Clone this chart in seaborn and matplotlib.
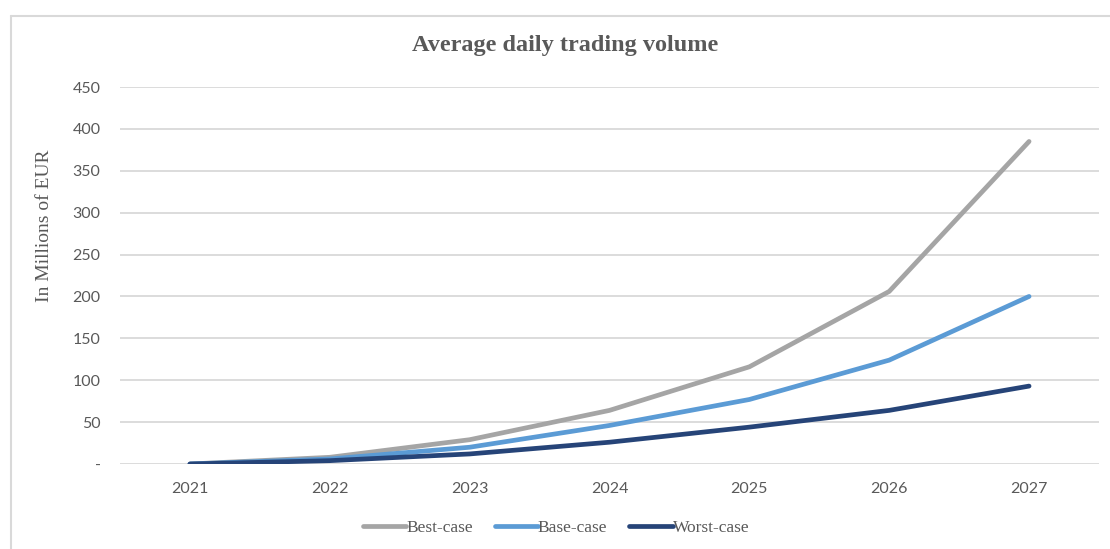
import numpy as np
import pandas as pd
import matplotlib.pyplot as plt
import matplotlib.lines as mlines
import seaborn as sns

# Chart data
years = [2021, 2022, 2023, 2024, 2025, 2026, 2027]
best_case = [0, 8, 29, 64, 116, 206, 385]
base_case = [0, 6, 20, 46, 77, 124, 200]
worst_case = [0, 4, 12, 26, 44, 64, 93]
series_names = ["Best-case", "Base-case", "Worst-case"]
y_ticks = [0, 50, 100, 150, 200, 250, 300, 350, 400, 450]
y_tick_labels = ["-", "50", "100", "150", "200", "250", "300", "350", "400", "450"]

colors = ["#a5a5a5", "#5b9bd5", "#264478"]
text_color = "#595959"
grid_color = "#d9d9d9"
serif = ["Liberation Serif", "DejaVu Serif"]

# Long form table for seaborn
df = pd.DataFrame({
    "Year": years * 3,
    "Value": best_case + base_case + worst_case,
    "Scenario": np.repeat(series_names, len(years)),
})

sns.set_theme(style="white")
plt.rcParams["font.family"] = ["Lato", "DejaVu Sans"]

fig = plt.figure(figsize=(11.10, 5.49), dpi=100)
ax = fig.add_axes([120 / 1110, 1 - 464 / 549, (1099 - 120) / 1110, (464 - 87) / 549])

sns.lineplot(data=df, x="Year", y="Value", hue="Scenario", hue_order=series_names,
             palette=colors, linewidth=3.4, ax=ax, legend=False, zorder=3)

ax.set_xlim(2020.5, 2027.5)
ax.set_ylim(0, 450)
ax.set_xticks(years)
ax.set_xticklabels([str(y) for y in years])
ax.set_yticks(y_ticks)
ax.set_yticklabels(y_tick_labels)
ax.tick_params(axis="both", length=0, labelsize=11.5, labelcolor=text_color)
ax.tick_params(axis="y", pad=14)
ax.tick_params(axis="x", pad=13)
ax.set_xlabel("")
ax.set_ylabel("")
ax.grid(axis="y", color=grid_color, linewidth=1.3)
ax.set_axisbelow(True)
for s in ax.spines.values():
    s.set_visible(False)

# Title and y label in a serif face
fig.text(565 / 1110, 1 - 46 / 549, "Average daily trading volume", ha="center", va="center",
         fontsize=17.5, fontweight="bold", color=text_color, family=serif)
fig.text(45 / 1110, 1 - 226 / 549, "In Millions of EUR", ha="center", va="center",
         rotation=90, fontsize=14, color=text_color, family=serif)

# Legend below the plot
handles = [mlines.Line2D([], [], color=c, linewidth=3.4) for c in colors]
fig.legend(handles, series_names, loc="center", bbox_to_anchor=(556 / 1110, 1 - 528 / 549),
           ncol=3, frameon=False, handlelength=2.5, handletextpad=0.0, columnspacing=1.25,
           prop={"family": serif, "size": 12.5}, labelcolor=text_color)

# Light frame on top and left like the cropped screenshot
fig.add_artist(mlines.Line2D([11 / 1110, 1], [1 - 16 / 549, 1 - 16 / 549],
                             color=grid_color, linewidth=1.5, transform=fig.transFigure))
fig.add_artist(mlines.Line2D([11 / 1110, 11 / 1110], [0, 1 - 16 / 549],
                             color=grid_color, linewidth=1.5, transform=fig.transFigure))

fig.savefig("out.png", dpi=100)
